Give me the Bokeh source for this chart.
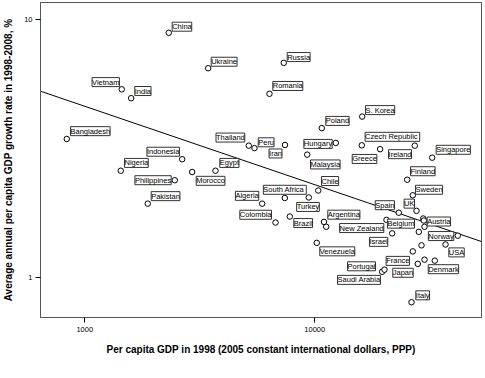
import numpy as np
from bokeh.plotting import figure
from bokeh.models import ColumnDataSource, LabelSet, FixedTicker, Range1d
from bokeh.core.properties import value, field
from bokeh.embed import file_html
from bokeh.resources import INLINE

# ---- data ----
countries = ["China", "Ukraine", "Russia", "Romania", "Vietnam", "India", "Bangladesh",
             "Indonesia", "Nigeria", "Philippines", "Pakistan", "Morocco", "Egypt",
             "Thailand", "Peru", "Iran", "Hungary", "Malaysia", "Poland", "S. Korea",
             "Czech  Republic", "Greece", "Ireland", "Singapore", "Finland", "Sweden",
             "UK", "Spain", "Austria", "Belgium", "Norway", "USA", "Israel",
             "New Zealand", "Argentina", "Venezuela", "France", "Japan", "Denmark",
             "Portugal", "Saudi Arabia", "Italy", "Chile", "South  Africa", "Turkey",
             "Brazil", "Algeria", "Colombia"]
gdp_1998 = [2318, 3440, 7332, 6353, 1448, 1591, 835,
            2651, 1434, 2462, 1879, 2931, 3701,
            5164, 5469, 7421, 12340, 9268, 10725, 16074,
            16010, 19230, 27210, 32390, 25220, 26670,
            27680, 23180, 29780, 28330, 41850, 37010, 21700,
            20500, 10965, 10200, 26670, 28050, 29990,
            19630, 20090, 26330, 10350, 7407, 9417,
            7787, 5905, 6748]
growth = [8.88, 6.47, 6.79, 5.15, 5.36, 4.95, 3.44,
          2.87, 2.59, 2.38, 1.93, 2.56, 2.59,
          3.24, 3.17, 3.26, 3.32, 2.99, 3.79, 4.20,
          3.25, 3.14, 3.24, 2.91, 2.39, 2.08,
          1.81, 1.78, 1.66, 1.50, 1.45, 1.34, 1.48,
          1.67, 1.64, 1.36, 1.26, 1.127, 1.17,
          1.05, 1.07, 0.80, 2.17, 2.03, 2.04,
          1.72, 1.93, 1.63]
# points without a label
other_gdp = [29600, 29990, 29100, 33240, 11210]
other_growth = [1.69, 1.57, 1.33, 1.16, 1.57]

x_ticks = [1000, 10000]
x_tick_labels = ["1000", "10000"]
y_ticks = [1, 10]
y_tick_labels = ["1", "10"]

# ---- label placement (align, baseline, box-corner offset in px, y up) ----
placement = {
    "China": ("left", "bottom", 3.4, 1.6), "Ukraine": ("left", "bottom", 3, 2),
    "Russia": ("left", "bottom", 3.4, 1.3), "Romania": ("left", "bottom", 3.3, 3.3),
    "Vietnam": ("right", "bottom", -2.3, 2.7), "India": ("left", "bottom", 3.6, 2.7),
    "Bangladesh": ("left", "bottom", 3.7, 3.3), "Indonesia": ("right", "bottom", -2.7, 3),
    "Nigeria": ("left", "bottom", 3.7, 3.3), "Philippines": ("right", "middle", -3.6, 0),
    "Pakistan": ("left", "bottom", 3.4, 3), "Morocco": ("left", "top", 4, -4.3),
    "Egypt": ("left", "bottom", 4.3, 3.3), "Thailand": ("right", "bottom", -4, 3.6),
    "Peru": ("left", "bottom", 3.7, 1.3), "Iran": ("right", "top", -3, -4),
    "Hungary": ("right", "middle", -3.6, -1), "Malaysia": ("left", "top", 3.3, -5.3),
    "Poland": ("left", "bottom", 4, 2.7), "S. Korea": ("left", "bottom", 3.3, 2),
    "Czech  Republic": ("left", "bottom", 3.3, 4), "Greece": ("right", "top", -3.3, -5.3),
    "Ireland": ("right", "top", -3.3, -4), "Singapore": ("left", "bottom", 4, 3.4),
    "Finland": ("left", "bottom", 3.3, 4), "Sweden": ("left", "bottom", 2.7, 1),
    "UK": ("right", "bottom", -2, 2.7), "Spain": ("right", "bottom", -4.3, 3),
    "Austria": ("left", "middle", 3.4, -1), "Belgium": ("right", "bottom", -4.3, 3.7),
    "Norway": ("right", "middle", -4, -0.4), "USA": ("left", "top", 3.3, -3.4),
    "Israel": ("right", "top", -4.4, -4), "New Zealand": ("right", "top", -2.7, -3.7),
    "Argentina": ("left", "bottom", 3.8, 2.7), "Venezuela": ("left", "top", 3, -4),
    "France": ("right", "top", -3.3, -5), "Japan": ("right", "top", -4.6, -4.4),
    "Denmark": ("left", "top", 3.7, -5), "Portugal": ("right", "bottom", -6.7, 1),
    "Saudi Arabia": ("right", "top", -4, -5.7), "Italy": ("left", "bottom", 4.3, 2.4),
    "Chile": ("left", "bottom", 3.3, 5), "South  Africa": ("center", "bottom", 0, 3.7),
    "Turkey": ("center", "top", -0.8, -5), "Brazil": ("left", "top", 4, -2),
    "Algeria": ("right", "bottom", -3.4, 3.3), "Colombia": ("right", "bottom", -4, 3.3),
}
PAD = 0
aligns, bases, xos, yos = [], [], [], []
for c in countries:
    a, b, ox, oy = placement[c]
    aligns.append(a)
    bases.append(b)
    xos.append(ox + (PAD if a == "left" else -PAD if a == "right" else 0))
    yos.append(oy + (PAD if b == "bottom" else -PAD if b == "top" else 0))

x_lo, x_hi = 642, 53060
y_lo, y_hi = 0.698, 11.64

p = figure(width=485, height=378, x_axis_type="log", y_axis_type="log",
           x_range=Range1d(x_lo, x_hi), y_range=Range1d(y_lo, y_hi),
           output_backend="svg", toolbar_location=None,
           min_border_left=40, min_border_right=4, min_border_top=2, min_border_bottom=61)
p.background_fill_color = "white"
p.border_fill_color = "white"
p.outline_line_color = "#555555"
p.outline_line_width = 1
p.grid.visible = False

# regression line in log-log space
all_x = np.log10(np.array(gdp_1998 + other_gdp, dtype=float))
all_y = np.log10(np.array(growth + other_growth, dtype=float))
slope, intercept = np.polyfit(all_x, all_y, 1)
lx = np.array([x_lo, x_hi], dtype=float)
ly = 10 ** (intercept + slope * np.log10(lx))
p.line(lx, ly, line_color="black", line_width=1)

p.scatter(other_gdp, other_growth, marker="circle", size=5.5,
          fill_color="white", line_color="black", line_width=1)
src = ColumnDataSource(dict(x=gdp_1998, y=growth, name=countries,
                            align=aligns, base=bases, xo=xos, yo=yos))
p.scatter("x", "y", source=src, marker="circle", size=5.5,
          fill_color="white", line_color="black", line_width=1)

labels = LabelSet(x="x", y="y", text="name", source=src,
                  x_offset=field("xo"), y_offset=field("yo"),
                  text_align=field("align"), text_baseline=field("base"),
                  text_font=value("Liberation Sans"), text_font_size="7.5px",
                  text_color="black", background_fill_color="white",
                  border_line_color="#333333", border_line_width=1)
p.add_layout(labels)

for ax, ticks, labs in ((p.xaxis[0], x_ticks, x_tick_labels), (p.yaxis[0], y_ticks, y_tick_labels)):
    ax.ticker = FixedTicker(ticks=ticks, minor_ticks=[])
    ax.major_label_overrides = {t: l for t, l in zip(ticks, labs)}
    ax.major_tick_out = 5
    ax.major_tick_in = 0
    ax.minor_tick_out = 0
    ax.minor_tick_in = 0
    ax.major_tick_line_color = "black"
    ax.axis_line_color = "#555555"
    ax.major_label_text_font = "Liberation Sans"
    ax.major_label_text_font_size = "7.5px"
    ax.major_label_text_color = "black"
    ax.axis_label_text_font = "Liberation Sans"
    ax.axis_label_text_font_style = "bold"
    ax.axis_label_text_font_size = "10px"
    ax.axis_label_text_color = "black"

p.xaxis.axis_label = "Per capita GDP in 1998 (2005 constant international dollars, PPP)"
p.yaxis.axis_label = "Average annual per capita GDP growth rate in 1998-2008, %"
p.xaxis.major_label_standoff = 4
p.xaxis.axis_label_standoff = 9
p.yaxis.major_label_standoff = 3
p.yaxis.axis_label_standoff = 7

open("out.html", "w").write(file_html(p, INLINE))
